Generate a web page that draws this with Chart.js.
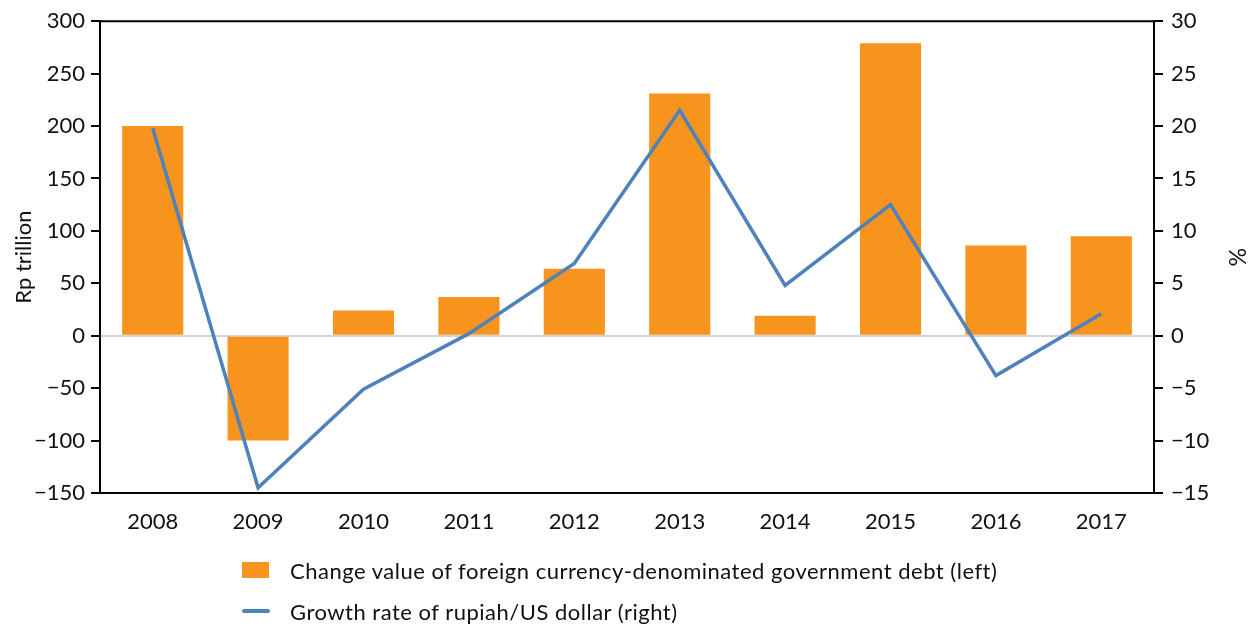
<!DOCTYPE html>
<html>
<head>
<meta charset="utf-8">
<script src="https://cdn.jsdelivr.net/npm/chart.js@4/dist/chart.umd.min.js"></script>
<style>
  html, body { margin: 0; padding: 0; background: #fff; }
  #wrap { position: relative; width: 1254px; height: 630px; }
  #legend { position: absolute; left: 242px; top: 553px; font-family: Lato, "Open Sans", sans-serif; font-size: 22px; letter-spacing: 0.5px; color: #111; }
  .item { display: flex; align-items: center; height: 34px; margin-bottom: 7px; }
  .box { width: 27px; height: 16px; background: #f7941d; margin-right: 21px; }
  .ln { width: 28px; height: 4px; border-radius: 2px; background: #4f81bd; margin-right: 20px; }
</style>
</head>
<body>
<div id="wrap">
  <canvas id="myChart" width="1254" height="630"></canvas>
  <div id="legend">
    <div class="item"><span class="box"></span>Change value of foreign currency-denominated government debt (left)</div>
    <div class="item"><span class="ln"></span>Growth rate of rupiah/US dollar (right)</div>
  </div>
</div>
<script>
const years = ["2008", "2009", "2010", "2011", "2012", "2013", "2014", "2015", "2016", "2017"];
const debtChange = [200, -100, 24, 37, 64, 231, 19, 279, 86, 95];
const rupiahGrowth = [19.8, -14.5, -5.1, 0.2, 6.9, 21.5, 4.8, 12.5, -3.8, 2.1];

const fam = "Lato, 'Open Sans', sans-serif";
const tickFont = { family: fam, size: 22 };

// typographic minus for negative ticks
const fmt = v => String(v).replace("-", "\u2212");

// top edge of the plot box
const topBorder = {
  id: "topBorder",
  afterDraw(chart) {
    const { ctx, chartArea } = chart;
    ctx.save();
    ctx.strokeStyle = "#000";
    ctx.lineWidth = 2;
    ctx.beginPath();
    ctx.moveTo(chartArea.left, chartArea.top);
    ctx.lineTo(chartArea.right, chartArea.top);
    ctx.stroke();
    ctx.restore();
  }
};

new Chart(document.getElementById("myChart"), {
  data: {
    labels: years,
    datasets: [
      {
        type: "line",
        label: "Growth rate of rupiah/US dollar (right)",
        data: rupiahGrowth,
        yAxisID: "y2",
        borderColor: "#4f81bd",
        borderWidth: 3.5,
        pointRadius: 0,
        tension: 0,
        order: 0
      },
      {
        type: "bar",
        label: "Change value of foreign currency-denominated government debt (left)",
        data: debtChange,
        yAxisID: "y",
        backgroundColor: "#f7941d",
        barPercentage: 0.58,
        categoryPercentage: 1,
        order: 1
      }
    ]
  },
  options: {
    responsive: false,
    animation: false,
    layout: { padding: { top: 20, bottom: 0 } },
    plugins: { legend: { display: false }, tooltip: { enabled: false } },
    scales: {
      x: {
        grid: { display: false, drawTicks: false },
        border: { display: true, color: "#000", width: 2 },
        ticks: { font: tickFont, color: "#111", padding: 16 },
        afterFit(s) { s.height = 137; }
      },
      y: {
        position: "left",
        min: -150,
        max: 300,
        ticks: { stepSize: 50, font: tickFont, color: "#111", padding: 6, callback: fmt },
        grid: {
          color: c => (c.tick && c.tick.value === 0 ? "#d3d3d3" : "rgba(0,0,0,0)"),
          lineWidth: 2,
          tickColor: "#000",
          tickLength: 9
        },
        border: { display: true, color: "#000", width: 2 },
        title: { display: true, text: "Rp trillion", font: { family: fam, size: 22 }, color: "#111", padding: { top: 11, bottom: 0 } },
        afterFit(s) { s.width = 100; }
      },
      y2: {
        position: "right",
        min: -15,
        max: 30,
        ticks: { stepSize: 5, font: tickFont, color: "#111", padding: 8, callback: fmt },
        grid: { drawOnChartArea: false, tickColor: "#000", tickLength: 9, lineWidth: 2 },
        border: { display: true, color: "#000", width: 2 },
        title: { display: true, text: "%", font: { family: fam, size: 23 }, color: "#111", padding: { top: 4, bottom: 0 } },
        afterFit(s) { s.width = 100; }
      }
    }
  },
  plugins: [topBorder]
});
</script>
</body>
</html>
